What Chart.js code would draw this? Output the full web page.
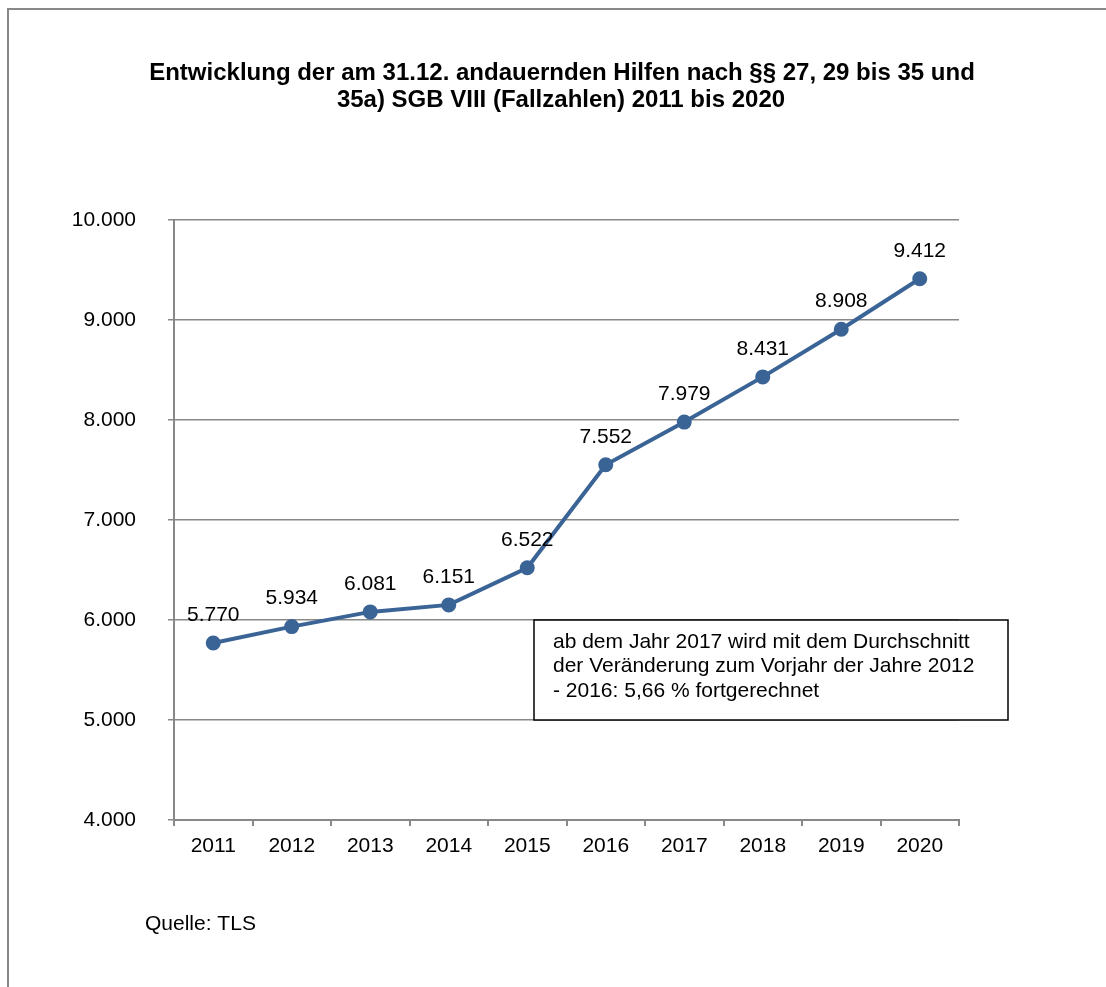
<!DOCTYPE html>
<html>
<head>
<meta charset="utf-8">
<script src="https://cdn.jsdelivr.net/npm/chart.js@4"></script>
<style>
  html, body { margin: 0; padding: 0; background: #fff; }
  #wrap { width: 1106px; height: 987px; }
</style>
</head>
<body>
<div id="wrap"><canvas id="lineChart" width="1106" height="987"></canvas></div>
<script>
// data
var years = ["2011","2012","2013","2014","2015","2016","2017","2018","2019","2020"];
var cases = [5770, 5934, 6081, 6151, 6522, 7552, 7979, 8431, 8908, 9412];
var titleLines = ["Entwicklung der am 31.12. andauernden Hilfen nach §§ 27, 29 bis 35 und",
                  "35a) SGB VIII (Fallzahlen) 2011 bis 2020"];
var noteLines = ["ab dem Jahr 2017 wird mit dem Durchschnitt",
                 "der Veränderung zum Vorjahr der Jahre 2012",
                 "- 2016: 5,66 % fortgerechnet"];
var sourceText = "Quelle: TLS";

var FONT = "'Liberation Sans', Arial, sans-serif";

function fmt(v) {
  return v.toLocaleString('de-DE');
}

// frame, title, labels, note box
var extras = {
  id: 'extras',
  beforeDraw: function(chart) {
    var c = chart.ctx;
    c.save();
    c.fillStyle = '#fff';
    c.fillRect(0, 0, chart.width, chart.height);
    c.strokeStyle = '#888';
    c.lineWidth = 2;
    c.beginPath();
    c.moveTo(8, chart.height);
    c.lineTo(8, 9);
    c.lineTo(chart.width, 9);
    c.stroke();
    c.restore();
  },
  afterDraw: function(chart) {
    var c = chart.ctx;
    c.save();
    c.fillStyle = '#000';
    c.textAlign = 'center';
    c.textBaseline = 'middle';
    c.font = "bold 24px " + FONT;
    c.fillText(titleLines[0], 562, 73);
    c.fillText(titleLines[1], 561, 100);

    // value labels
    c.font = "21px " + FONT;
    var meta = chart.getDatasetMeta(0);
    meta.data.forEach(function(pt, i) {
      c.fillText(fmt(cases[i]), pt.x, pt.y - 28);
    });

    // note box
    var x = 534, y = 620, w = 474, h = 100;
    c.fillStyle = '#fff';
    c.fillRect(x, y, w, h);
    c.strokeStyle = '#000';
    c.lineWidth = 1.5;
    c.strokeRect(x, y, w, h);
    c.fillStyle = '#000';
    c.textAlign = 'left';
    c.font = "21px " + FONT;
    noteLines.forEach(function(t, i) {
      c.fillText(t, 553, 642 + i * 24.5);
    });

    c.font = "21px " + FONT;
    c.fillText(sourceText, 145, 924);
    c.restore();
  }
};

var ctxL = document.getElementById("lineChart").getContext('2d');
var myLineChart = new Chart(ctxL, {
  type: 'line',
  data: {
    labels: years,
    datasets: [{
      data: cases,
      borderColor: '#3B6496',
      backgroundColor: '#3B6496',
      borderWidth: 4,
      pointRadius: 5.5,
      pointHoverRadius: 5.5,
      tension: 0,
      clip: false
    }]
  },
  options: {
    responsive: false,
    animation: false,
    layout: {
      padding: { top: 220, right: 147, bottom: 107, left: 0 }
    },
    plugins: {
      legend: { display: false },
      title: { display: false },
      tooltip: { enabled: false }
    },
    scales: {
      x: {
        offset: true,
        afterFit: function(s) { s.height = 60; },
        grid: {
          offset: true,
          drawOnChartArea: false,
          tickLength: 6,
          color: '#888',
          lineWidth: 2
        },
        border: { color: '#888', width: 2 },
        ticks: {
          color: '#000',
          padding: 8,
          font: { family: FONT, size: 21 },
          maxRotation: 0
        }
      },
      y: {
        min: 4000,
        max: 10000,
        afterFit: function(s) { s.width = 174; },
        grid: {
          tickLength: 6,
          color: '#888',
          lineWidth: 1.5
        },
        border: { color: '#888', width: 2 },
        ticks: {
          stepSize: 1000,
          color: '#000',
          padding: 32,
          font: { family: FONT, size: 21 },
          callback: function(v) { return fmt(v); }
        }
      }
    }
  },
  plugins: [extras]
});
</script>
</body>
</html>
